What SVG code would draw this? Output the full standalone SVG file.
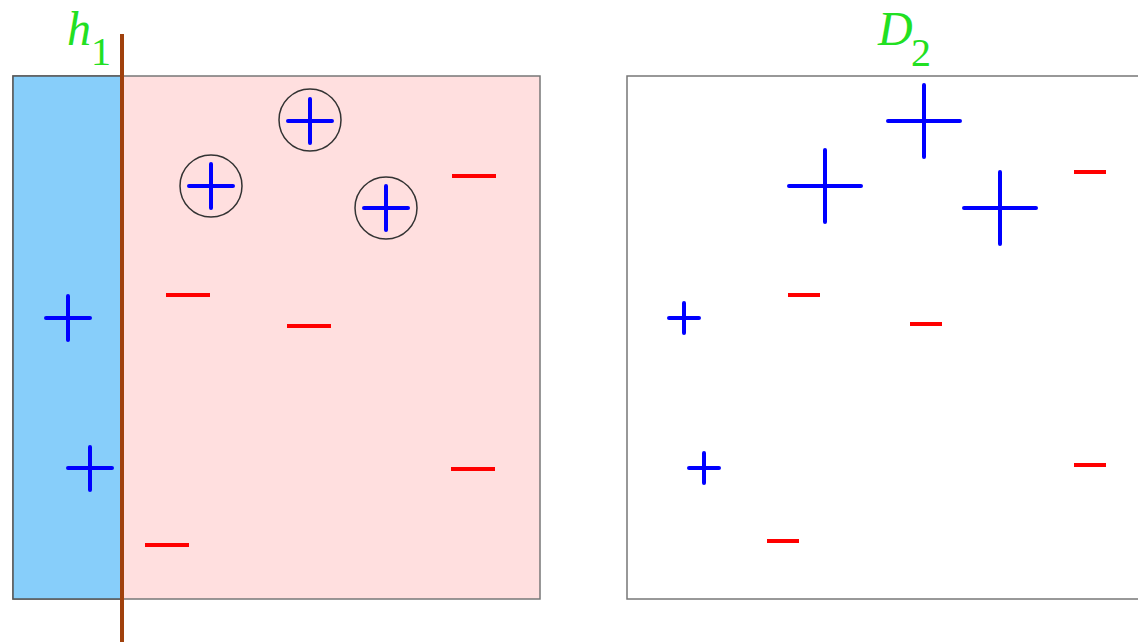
<svg xmlns="http://www.w3.org/2000/svg" width="1138" height="642" viewBox="0 0 1138 642">
<style>
.p{stroke:#0000FF;stroke-width:4;stroke-linecap:round;fill:none}
.m{stroke:#FF0000;stroke-width:4;stroke-linecap:butt;fill:none}
.c{stroke:#333;stroke-width:1.5;fill:none}
.lbl{font-family:"Liberation Serif",serif;font-style:italic;fill:#22E022}
.sub{font-family:"Liberation Serif",serif;fill:#22E022}
</style>
<rect width="1138" height="642" fill="#fff"/>
<g id="panel1">
<rect x="13" y="76" width="527" height="523" fill="#FFDFDF" stroke="#777" stroke-width="1.5"/>
<rect x="13" y="76" width="109" height="523" fill="#87CEFA" stroke="#555" stroke-width="1.5"/>
<line x1="122" y1="34" x2="122" y2="642" stroke="#A0410D" stroke-width="4"/>
<text class="lbl" x="67" y="45" font-size="48">h</text>
<text class="sub" x="91" y="65" font-size="40">1</text>
<circle class="c" cx="310" cy="120" r="31"/>
<circle class="c" cx="211" cy="186" r="31"/>
<circle class="c" cx="386" cy="208" r="31"/>
<path class="p" d="M288,121h44M310,99v44 M189,186h44M211,164v44 M364,208h44M386,186v44 M46,318h44M68,296v44 M68,468h44M90,447v43"/>
<path class="m" d="M452,176h44 M166,295h44 M287,326h44 M451,469h44 M145,545h44"/>
</g>
<g id="panel2">
<rect x="627" y="76" width="520" height="523" fill="#fff" stroke="#777" stroke-width="1.5"/>
<text class="lbl" x="878" y="45" font-size="48">D</text>
<text class="sub" x="911" y="66" font-size="40">2</text>
<path class="p" d="M888,121h72M924,85v72 M789,186h72M825,150v72 M964,208h72M1000,172v72 M669,318h30M684,303v30 M689,468h30M704,453v30"/>
<path class="m" d="M1074,172h32 M788,295h32 M910,324h32 M1074,465h32 M767,541h32"/>
</g>
</svg>
